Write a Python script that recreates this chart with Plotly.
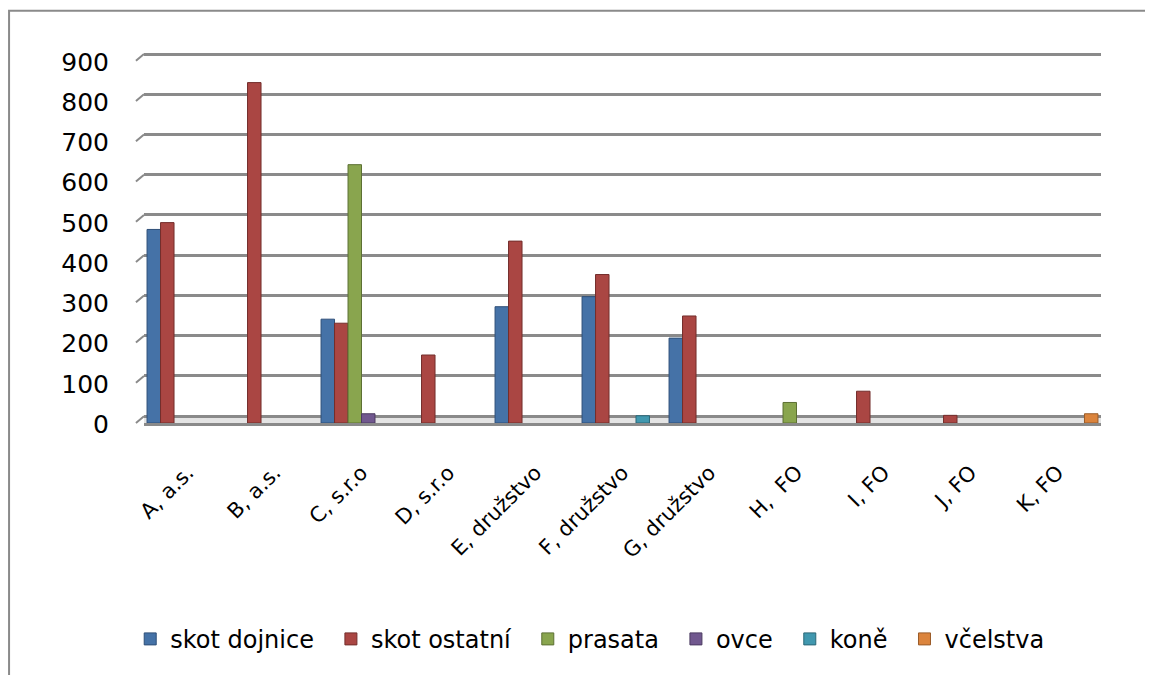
import plotly.graph_objects as go

categories = ["A, a.s.", "B, a.s.", "C, s.r.o", "D, s.r.o", "E, družstvo", "F, družstvo",
              "G, družstvo", "H,  FO", "I, FO", "J, FO", "K, FO"]
skot_dojnice = [464, None, 241, None, 272, 297, 194, None, None, None, None]
skot_ostatni = [481, 829, 231, 152, 435, 352, 249, None, 62, 2, None]
prasata      = [None, None, 625, None, None, None, None, 34, None, None, None]
ovce         = [None, None, 6, None, None, None, None, None, None, None, None]
kone         = [None, None, None, None, None, 1, None, None, None, None, None]
vcelstva     = [None, None, None, None, None, None, None, None, None, None, 6]
series_names = ["skot dojnice", "skot ostatní", "prasata", "ovce", "koně", "včelstva"]
y_ticks = [0, 100, 200, 300, 400, 500, 600, 700, 800, 900]

series = [skot_dojnice, skot_ostatni, prasata, ovce, kone, vcelstva]
colors = ["#4572A7", "#AA4643", "#89A54E", "#71588F", "#4198AF", "#DB843D"]
edges = ["#2E4F78", "#732E2C", "#5C7033", "#4C3B61", "#2B6777", "#9A5B28"]

FLOOR = -17  # depth of the 3D-style floor strip, in axis units
Y_MAX = 905

fig = go.Figure()
for name, vals, c, e in zip(series_names, series, colors, edges):
    fig.add_trace(go.Bar(
        x=categories,
        y=[None if v is None else v - FLOOR for v in vals],
        base=FLOOR,
        name=name + "\u2002",
        customdata=vals,
        hovertemplate="%{x}<br>" + name + ": %{customdata}<extra></extra>",
        marker=dict(color=c, line=dict(color=e, width=1)),
    ))

# decorative 3D wall: floor strip, small diagonal ticks, chart frame (left+top only)
shapes = [
    dict(type="rect", xref="paper", yref="y", x0=0, x1=1, y0=FLOOR, y1=0,
         fillcolor="#e4e4e4", line=dict(width=0), layer="below"),
    dict(type="path", xref="paper", yref="paper",
         path="M -0.141,-1.4 L -0.141,1.111 L 1.4,1.111",
         line=dict(color="#8a8a8a", width=2), layer="below"),
]
span = Y_MAX - FLOOR
for t in y_ticks:
    shapes.append(dict(type="line", xref="paper", yref="paper",
                       x0=-0.0084, x1=0.0, y0=t / span, y1=(t - FLOOR) / span,
                       line=dict(color="#8a8a8a", width=2)))

fig.update_layout(
    width=1160, height=675,
    barmode="group", bargap=0.07, bargroupgap=0,
    plot_bgcolor="white", paper_bgcolor="white",
    margin=dict(l=136, r=67, t=44, b=260, autoexpand=False),
    font=dict(family="DejaVu Sans", color="black"),
    legend=dict(orientation="h", x=0.472, xanchor="center", y=-0.583, yanchor="middle",
                font=dict(family="DejaVu Sans", size=24), tracegroupgap=0),
    xaxis=dict(tickangle=-45, tickfont=dict(size=21), ticklabelstandoff=26,
               showline=True, linecolor="#8a8a8a", linewidth=3, showgrid=False),
    yaxis=dict(range=[FLOOR, Y_MAX], tickvals=y_ticks, tickfont=dict(size=25),
               ticklabelstandoff=34, ticklabelshift=8,
               showgrid=True, gridcolor="#8a8a8a", gridwidth=2.5,
               zeroline=False, showline=False),
    shapes=shapes,
)

fig.write_html("out.html")
